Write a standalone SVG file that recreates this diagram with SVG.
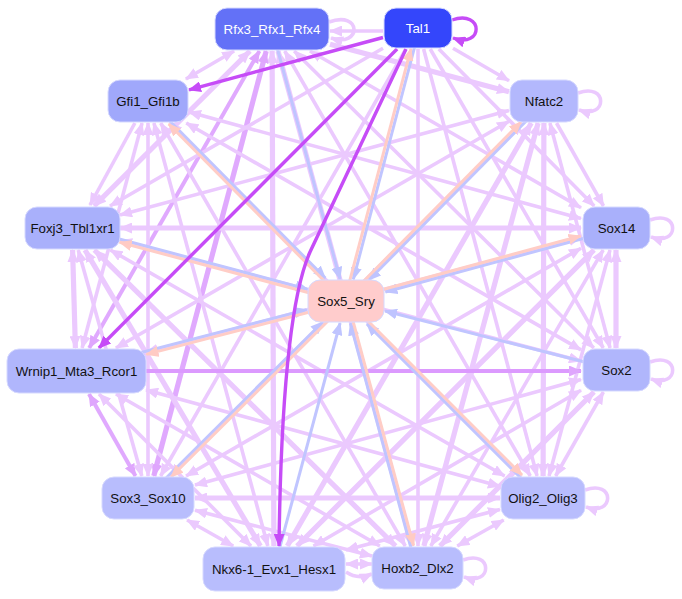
<svg xmlns="http://www.w3.org/2000/svg" width="682" height="599" viewBox="0 0 682 599">
<style>
.e{fill:none;stroke:#ebc9fe;stroke-width:3.6}
.eL{marker-end:url(#aL)}
.eB{marker-start:url(#aL);marker-end:url(#aL)}
.m{fill:none;stroke:#e0a9fe;stroke-width:4}
.mB{marker-start:url(#aM);marker-end:url(#aM)}
.d{fill:none;stroke:#c64cf7;stroke-width:3.4;marker-end:url(#aD)}
.b{fill:none;stroke:#c0c5ff;stroke-width:3;marker-end:url(#aB)}
.p{fill:none;stroke:#ffcdc6;stroke-width:3;marker-end:url(#aP)}
.t{stroke-width:5.2}
.n rect{stroke:#d6d9ff;stroke-width:1}
.n text{font-family:"Liberation Sans",Arial,sans-serif;font-size:13.3px;text-anchor:middle;fill:#111}
.w text{fill:#fff}
</style>
<defs>
<marker id="aL" markerUnits="userSpaceOnUse" markerWidth="13" markerHeight="11" viewBox="0 0 13 11" refX="12" refY="5.5" orient="auto-start-reverse"><path d="M0,0 L13,5.5 L0,11 z" fill="#ebc9fe"/></marker>
<marker id="aM" markerUnits="userSpaceOnUse" markerWidth="13" markerHeight="11" viewBox="0 0 13 11" refX="12" refY="5.5" orient="auto-start-reverse"><path d="M0,0 L13,5.5 L0,11 z" fill="#dfa6fd"/></marker>
<marker id="aD" markerUnits="userSpaceOnUse" markerWidth="13" markerHeight="11" viewBox="0 0 13 11" refX="12" refY="5.5" orient="auto-start-reverse"><path d="M0,0 L13,5.5 L0,11 z" fill="#c64cf7"/></marker>
<marker id="aB" markerUnits="userSpaceOnUse" markerWidth="13" markerHeight="11" viewBox="0 0 13 11" refX="12" refY="5.5" orient="auto-start-reverse"><path d="M0,0 L13,5.5 L0,11 z" fill="#bfc4ff"/></marker>
<marker id="aP" markerUnits="userSpaceOnUse" markerWidth="13" markerHeight="11" viewBox="0 0 13 11" refX="12" refY="5.5" orient="auto-start-reverse"><path d="M0,0 L13,5.5 L0,11 z" fill="#ffcbc4"/></marker>
</defs>
<rect width="682" height="599" fill="#fff"/>
<g id="connectors">
<line class="e eL" x1="383" y1="31" x2="330" y2="31"/>
<line class="e eL t" x1="330" y1="44.3" x2="509" y2="91.7"/>
<line class="e eB" x1="310" y1="51" x2="581" y2="207.8"/>
<line class="e eB" x1="294.2" y1="51" x2="593.8" y2="348"/>
<line class="e eB" x1="284.7" y1="51" x2="530.3" y2="476"/>
<line class="e eB t" x1="278" y1="51" x2="412" y2="546"/>
<line class="e eB t" x1="272.1" y1="51" x2="273.9" y2="546"/>
<line class="m mB t" x1="266.2" y1="51" x2="153.8" y2="476"/>
<line class="m mB" x1="259.4" y1="51" x2="89.2" y2="348"/>
<line class="e eB t" x1="249.9" y1="51" x2="94.1" y2="206"/>
<line class="e eB" x1="234.1" y1="51" x2="185.9" y2="79"/>
<line class="e eL" x1="453" y1="48.3" x2="509" y2="80.7"/>
<line class="e eL" x1="438.8" y1="49" x2="594.2" y2="206"/>
<line class="e eL" x1="430.2" y1="49" x2="603.3" y2="348"/>
<line class="e eL" x1="423.6" y1="49" x2="537.1" y2="476"/>
<line class="e eL" x1="418" y1="49" x2="418" y2="546"/>
<line class="e eL" x1="405.9" y1="49" x2="160.6" y2="476"/>
<line class="e eL" x1="383" y1="48.2" x2="110" y2="206"/>
<line class="e eL" x1="556.5" y1="123" x2="603.5" y2="206"/>
<line class="e eB" x1="549.9" y1="123" x2="610.1" y2="348"/>
<line class="e eB t" x1="543.9" y1="123" x2="543.1" y2="476"/>
<line class="e eB t" x1="538.1" y1="123" x2="423.9" y2="546"/>
<line class="e eB t" x1="531.3" y1="123" x2="287.3" y2="546"/>
<line class="e eB" x1="522.1" y1="123" x2="169.9" y2="476"/>
<line class="e eB" x1="509" y1="121.2" x2="115.9" y2="348"/>
<line class="e eB" x1="509" y1="110.4" x2="120" y2="215.1"/>
<line class="e eB t" x1="616" y1="250" x2="616" y2="348"/>
<line class="e eB" x1="610" y1="250" x2="549" y2="476"/>
<line class="e eB" x1="603.2" y1="250" x2="430.8" y2="546"/>
<line class="e eB t" x1="594" y1="250" x2="297" y2="546"/>
<line class="e eB" x1="581" y1="248.2" x2="186.1" y2="476"/>
<line class="e eB" x1="581" y1="237.3" x2="146" y2="352.5"/>
<line class="e eB t" x1="581" y1="228" x2="120" y2="228"/>
<line class="e eB" x1="581" y1="218.5" x2="189" y2="112.1"/>
<line class="e eB" x1="603.4" y1="392" x2="555.6" y2="476"/>
<line class="e eB t" x1="594" y1="392" x2="440" y2="546"/>
<line class="e eB" x1="581" y1="390.3" x2="313.5" y2="546"/>
<line class="e eB" x1="581" y1="379.6" x2="195" y2="485.1"/>
<line class="e eB" x1="581" y1="360.9" x2="120" y2="240.5"/>
<line class="e eB" x1="581" y1="349.9" x2="186.3" y2="123"/>
<line class="e eB" x1="503.7" y1="520" x2="457.3" y2="546"/>
<line class="e eB" x1="500" y1="509.4" x2="346" y2="549.9"/>
<line class="e eB t" x1="500" y1="498" x2="195" y2="498"/>
<line class="e eB" x1="500" y1="486.3" x2="146" y2="390"/>
<line class="e eB" x1="504.6" y1="476" x2="110.4" y2="250"/>
<line class="e eB" x1="521.1" y1="476" x2="169.9" y2="123"/>
<line class="e eB" x1="372" y1="564" x2="346" y2="564"/>
<path class="e eL" d="M346,572 Q358,580 372,574"/>
<line class="e eB" x1="372" y1="556.1" x2="195" y2="510.2"/>
<line class="e eB" x1="379.8" y1="546" x2="116" y2="394"/>
<line class="e eB t" x1="395.6" y1="546" x2="94.4" y2="250"/>
<line class="e eB" x1="405.3" y1="546" x2="160.7" y2="123"/>
<line class="e eB" x1="233.2" y1="546" x2="187.1" y2="520"/>
<line class="e eB" x1="251" y1="546" x2="99" y2="394"/>
<line class="e eB t" x1="260.4" y1="546" x2="85" y2="250"/>
<line class="e eB" x1="267.8" y1="546" x2="153.9" y2="123"/>
<line class="m mB" x1="135.5" y1="476" x2="89" y2="394"/>
<line class="e eB" x1="141.8" y1="476" x2="78.2" y2="250"/>
<line class="e eB" x1="148" y1="476" x2="148" y2="123"/>
<line class="e eB t" x1="75.4" y1="348" x2="72.6" y2="250"/>
<line class="e eB" x1="82.1" y1="348" x2="142.1" y2="123"/>
<line class="e eL" x1="134.9" y1="123" x2="90" y2="205"/>
<line class="m" style="stroke:#dc9afe;marker-end:url(#aM)" x1="146" y1="371" x2="581" y2="371"/>
<path class="e eL" d="M329,22 C362,10 362,48 331,38"/>
<path class="e eL" d="M578,93 C608,82 608,120 579,110"/>
<path class="e eL" d="M650,220 C680,209 680,247 651,237"/>
<path class="e eL" d="M650,362 C680,351 680,389 651,379"/>
<path class="e eL" d="M585,490 C615,479 615,517 586,507"/>
<path class="e eL" d="M463,560 C493,549 493,587 464,577"/>
<line class="b" x1="272" y1="29" x2="340" y2="279"/>
<line class="b" x1="419.5" y1="28.4" x2="353.3" y2="279.4"/>
<line class="p" x1="344.5" y1="300.6" x2="411" y2="48.6"/>
<line class="b" x1="545" y1="102" x2="368.9" y2="280"/>
<line class="p" x1="345" y1="300" x2="521.1" y2="122"/>
<line class="b" x1="616.4" y1="229.5" x2="385.4" y2="292"/>
<line class="p" x1="345.6" y1="299.5" x2="580.6" y2="236"/>
<line class="b" x1="616" y1="370" x2="385" y2="311"/>
<line class="b" x1="542" y1="499" x2="366.9" y2="324"/>
<line class="p" x1="347" y1="300" x2="522" y2="475"/>
<line class="b" x1="416.5" y1="568.4" x2="350.4" y2="323.4"/>
<line class="p" x1="347.5" y1="300.6" x2="413.6" y2="545.6"/>
<line class="b" x1="274" y1="569" x2="340.1" y2="323"/>
<line class="b" x1="147" y1="497" x2="322.8" y2="322"/>
<line class="p" x1="347" y1="302" x2="171.1" y2="477"/>
<line class="b" x1="75.6" y1="369.5" x2="306.6" y2="309.6"/>
<line class="p" x1="346.4" y1="302.5" x2="146.4" y2="354.4"/>
<line class="b" x1="72.4" y1="226.5" x2="307.4" y2="289.1"/>
<line class="p" x1="345.6" y1="302.5" x2="119.6" y2="242.3"/>
<line class="b" x1="149" y1="100" x2="325.3" y2="278"/>
<line class="p" x1="345" y1="302" x2="168.7" y2="124"/>
<line class="d" x1="383" y1="37.5" x2="189" y2="89.9"/>
<line class="d" x1="397.1" y1="49" x2="98.9" y2="348"/>
<path class="d" d="M406,49 L310,252 Q282,315 279,546"/>
<path class="d" d="M452,20 C484,9 484,49 453,38"/>
</g>
<g id="Rfx3_Rfx1_Rfx4" class="n w"><rect x="215" y="8" width="114" height="42" rx="12" fill="#6371f7"/><text x="272" y="33.5">Rfx3_Rfx1_Rfx4</text></g>
<g id="Tal1" class="n w"><rect x="384" y="8" width="68" height="40" rx="12" fill="#3446fb"/><text x="418" y="32.5">Tal1</text></g>
<g id="Gfi1_Gfi1b" class="n"><rect x="108" y="80" width="80" height="42" rx="12" fill="#a0a8fb"/><text x="148" y="105.5">Gfi1_Gfi1b</text></g>
<g id="Nfatc2" class="n"><rect x="510" y="80" width="68" height="42" rx="12" fill="#b3b8fd"/><text x="544" y="105.5">Nfatc2</text></g>
<g id="Foxj3_Tbl1xr1" class="n"><rect x="25" y="207" width="95" height="42" rx="12" fill="#a9b0fb"/><text x="72.5" y="232.5">Foxj3_Tbl1xr1</text></g>
<g id="Sox14" class="n"><rect x="583" y="207" width="67" height="42" rx="12" fill="#a9b0fb"/><text x="616.5" y="232.5">Sox14</text></g>
<g id="Sox5_Sry" class="n"><rect x="308" y="280" width="76" height="42" rx="12" fill="#ffcccc" stroke="#ffd8d8"/><text x="346" y="305.5">Sox5_Sry</text></g>
<g id="Wrnip1_Mta3_Rcor1" class="n"><rect x="7" y="349" width="139" height="44" rx="12" fill="#b0b6fc"/><text x="76.5" y="375.5">Wrnip1_Mta3_Rcor1</text></g>
<g id="Sox2" class="n"><rect x="583" y="349" width="67" height="42" rx="12" fill="#b0b6fc"/><text x="616.5" y="374.5">Sox2</text></g>
<g id="Sox3_Sox10" class="n"><rect x="102" y="477" width="92" height="42" rx="12" fill="#b8bdfd"/><text x="148" y="502.5">Sox3_Sox10</text></g>
<g id="Olig2_Olig3" class="n"><rect x="501" y="477" width="84" height="42" rx="12" fill="#b8bdfd"/><text x="543" y="502.5">Olig2_Olig3</text></g>
<g id="Nkx6-1_Evx1_Hesx1" class="n"><rect x="203" y="547" width="142" height="44" rx="12" fill="#b8bdfd"/><text x="274" y="573.5">Nkx6-1_Evx1_Hesx1</text></g>
<g id="Hoxb2_Dlx2" class="n"><rect x="372" y="547" width="91" height="42" rx="12" fill="#b8bdfd"/><text x="417.5" y="572.5">Hoxb2_Dlx2</text></g>
</svg>
